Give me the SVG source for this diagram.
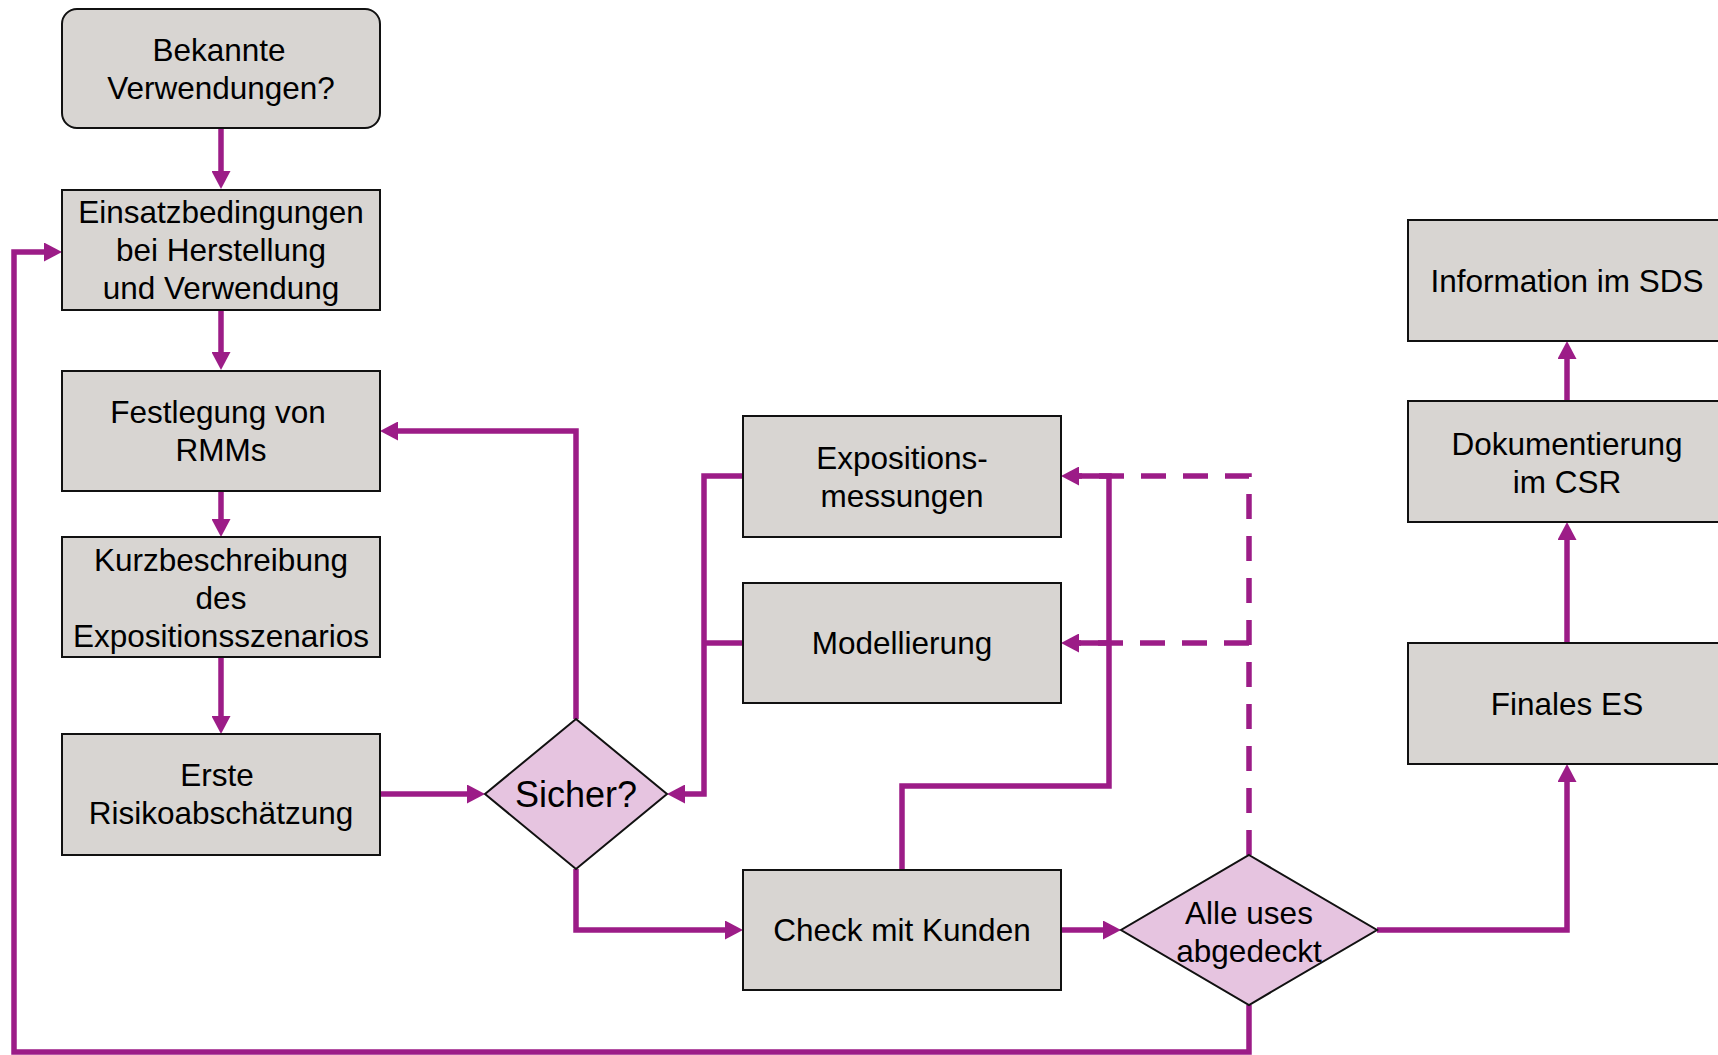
<svg xmlns="http://www.w3.org/2000/svg" width="1718" height="1055" viewBox="0 0 1718 1055">
<style>
.box{fill:#d8d5d2;stroke:#111;stroke-width:2}
.dia{fill:#e6c4e0;stroke:#111;stroke-width:2}
.t{font-family:"Liberation Sans",Arial,sans-serif;font-size:31.5px;fill:#000;text-anchor:middle}
.c{fill:none;stroke:#9c1c87;stroke-width:5.5}
.d{fill:none;stroke:#9c1c87;stroke-width:5.5;stroke-dasharray:25 17}
</style>
<defs>
<marker id="a" viewBox="0 0 18 19" refX="2" refY="9.5" markerWidth="18" markerHeight="19" markerUnits="userSpaceOnUse" orient="auto">
<path d="M0,0 L18,9.5 L0,19 z" fill="#9c1c87"/>
</marker>
</defs>
<rect width="1718" height="1055" fill="#fff"/>
<g id="connectors">
<path class="d" d="M1249,855 V476 H1076"/>
<path class="d" d="M1249,643 H1076"/>
<path class="c" d="M221,128 V173" marker-end="url(#a)"/>
<path class="c" d="M221,310 V354" marker-end="url(#a)"/>
<path class="c" d="M221,491 V521" marker-end="url(#a)"/>
<path class="c" d="M221,657 V718" marker-end="url(#a)"/>
<path class="c" d="M380,794 H469" marker-end="url(#a)"/>
<path class="c" d="M576,719 V431 H396" marker-end="url(#a)"/>
<path class="c" d="M576,869 V930 H727" marker-end="url(#a)"/>
<path class="c" d="M743,476 H704 V794 H683" marker-end="url(#a)"/>
<path class="c" d="M743,643 H704"/>
<path class="c" d="M902,870 V786 H1109 V476 H1077" marker-end="url(#a)"/>
<path class="c" d="M1109,643 H1077" marker-end="url(#a)"/>
<path class="c" d="M1061,930 H1105" marker-end="url(#a)"/>
<path class="c" d="M1377,930 H1567 V780" marker-end="url(#a)"/>
<path class="c" d="M1567,643 V538" marker-end="url(#a)"/>
<path class="c" d="M1567,401 V357" marker-end="url(#a)"/>
<path class="c" d="M1249,1005 V1052 H14 V252 H46" marker-end="url(#a)"/>
</g>
<g id="n1"><rect class="box" x="62" y="9" width="318" height="119" rx="15"/>
<text class="t" x="219" y="61">Bekannte</text><text class="t" x="221" y="99">Verwendungen?</text></g>
<g id="n2"><rect class="box" x="62" y="190" width="318" height="120"/>
<text class="t" x="221" y="223">Einsatzbedingungen</text><text class="t" x="221" y="261">bei Herstellung</text><text class="t" x="221" y="299">und Verwendung</text></g>
<g id="n3"><rect class="box" x="62" y="371" width="318" height="120"/>
<text class="t" x="218" y="423">Festlegung von</text><text class="t" x="221" y="461">RMMs</text></g>
<g id="n4"><rect class="box" x="62" y="537" width="318" height="120"/>
<text class="t" x="221" y="571">Kurzbeschreibung</text><text class="t" x="221" y="609">des</text><text class="t" x="221" y="647">Expositionsszenarios</text></g>
<g id="n5"><rect class="box" x="62" y="734" width="318" height="121"/>
<text class="t" x="217" y="786">Erste</text><text class="t" x="221" y="824">Risikoabschätzung</text></g>
<g id="n6"><polygon class="dia" points="576,719 667,794 576,869 485,794"/>
<text class="t" x="576" y="807" style="font-size:36px">Sicher?</text></g>
<g id="n7"><rect class="box" x="743" y="416" width="318" height="121"/>
<text class="t" x="902" y="469">Expositions-</text><text class="t" x="902" y="507">messungen</text></g>
<g id="n8"><rect class="box" x="743" y="583" width="318" height="120"/>
<text class="t" x="902" y="654">Modellierung</text></g>
<g id="n9"><rect class="box" x="743" y="870" width="318" height="120"/>
<text class="t" x="902" y="941">Check mit Kunden</text></g>
<g id="n10"><polygon class="dia" points="1249,855 1377,930 1249,1005 1121,930"/>
<text class="t" x="1249" y="924">Alle uses</text><text class="t" x="1249" y="962">abgedeckt</text></g>
<g id="n11"><rect class="box" x="1408" y="220" width="330" height="121"/>
<text class="t" x="1567" y="292">Information im SDS</text></g>
<g id="n12"><rect class="box" x="1408" y="401" width="330" height="121"/>
<text class="t" x="1567" y="455">Dokumentierung</text><text class="t" x="1567" y="493">im CSR</text></g>
<g id="n13"><rect class="box" x="1408" y="643" width="330" height="121"/>
<text class="t" x="1567" y="715">Finales ES</text></g>
</svg>
